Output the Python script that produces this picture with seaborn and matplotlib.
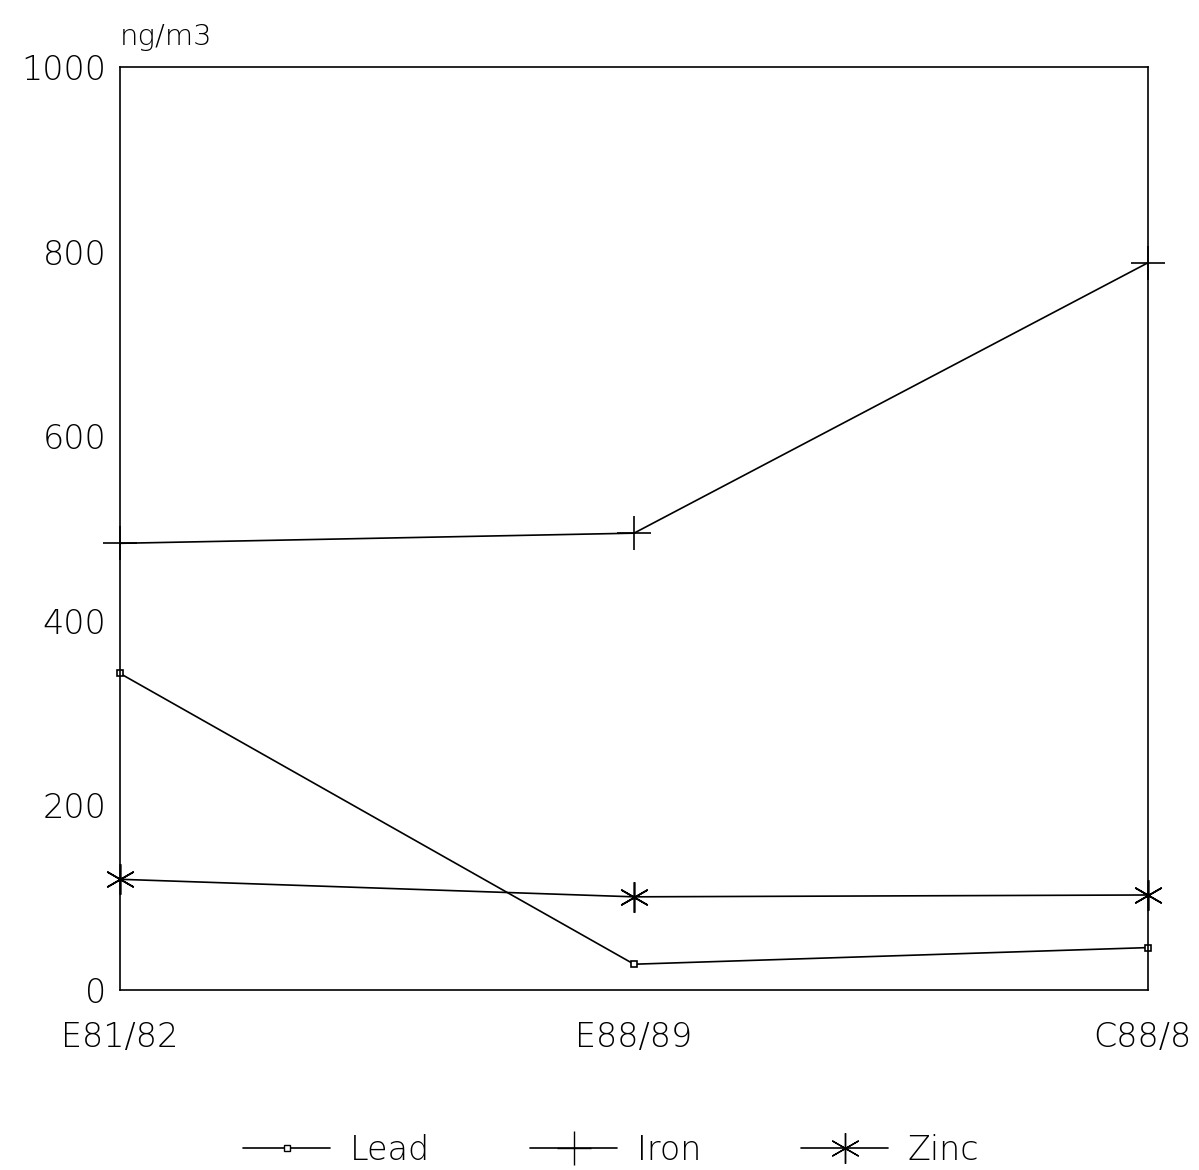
import pandas as pd
import matplotlib
matplotlib.use('Agg')
import matplotlib.pyplot as plt
import matplotlib.transforms as mtransforms
import seaborn as sns
from matplotlib.lines import Line2D

sns.set_theme(style='white')
plt.rcParams['font.family'] = ['DejaVu Sans']
plt.rcParams['text.color'] = 'black'

# Data (ng/m3)
periods = ['E81/82', 'E88/89', 'C88/8']
lead = [343, 28, 46]
iron = [484, 495, 788]
zinc = [120, 101, 103]
y_ticks = [0, 200, 400, 600, 800, 1000]

df = pd.DataFrame({
    'x': [0, 1, 2] * 3,
    'value': lead + iron + zinc,
    'metal': ['Lead'] * 3 + ['Iron'] * 3 + ['Zinc'] * 3,
})

fig = plt.figure(figsize=(11.99, 11.70), dpi=100)
ax = fig.add_axes([0.1001, 0.1538, 0.8574, 0.7889])

markers = {'Lead': 's', 'Iron': '+', 'Zinc': (6, 2, 0)}
sizes = {'Lead': 5, 'Iron': 24, 'Zinc': 22}
for metal, sub in df.groupby('metal', sort=False):
    sns.lineplot(data=sub, x='x', y='value', ax=ax, color='black',
                 linewidth=1.2, marker=markers[metal],
                 markersize=sizes[metal], markerfacecolor='white',
                 markeredgecolor='black', markeredgewidth=1.2,
                 legend=False, clip_on=False)

ax.set_xlim(0, 2)
ax.set_ylim(0, 1000)
ax.set_xticks([0, 1, 2])
ax.set_xticklabels(periods)
ax.set_yticks(y_ticks)
ax.set_xlabel('')
ax.set_ylabel('')
ax.tick_params(axis='both', length=0, labelsize=24, labelcolor='black')
ax.tick_params(axis='x', pad=22)
ax.tick_params(axis='y', pad=10)
for lbl in ax.get_xticklabels() + ax.get_yticklabels():
    lbl.set_fontweight('light')
# keep the clipped last label inside the figure
last = ax.get_xticklabels()[-1]
last.set_transform(last.get_transform() +
                   mtransforms.ScaledTranslation(-0.06, 0, fig.dpi_scale_trans))
for s in ax.spines.values():
    s.set_color('black')
    s.set_linewidth(1.2)

fig.text(0.1001, 0.968, 'ng/m3', fontsize=21, fontweight='light',
         ha='left', va='center')

handles = [Line2D([], [], color='black', lw=1.2, marker=markers[m],
                  markersize=sizes[m] if m != 'Lead' else 5,
                  markerfacecolor='white', markeredgewidth=1.0)
           for m in ['Lead', 'Iron', 'Zinc']]
leg = fig.legend(handles, ['Lead', 'Iron', 'Zinc'], loc='center',
                 bbox_to_anchor=(0.51, 0.017), ncol=3, frameon=False,
                 fontsize=24, handlelength=2.6, columnspacing=3.0,
                 handletextpad=0.6)
for t in leg.get_texts():
    t.set_fontweight('light')

fig.savefig('out.png', dpi=100)
